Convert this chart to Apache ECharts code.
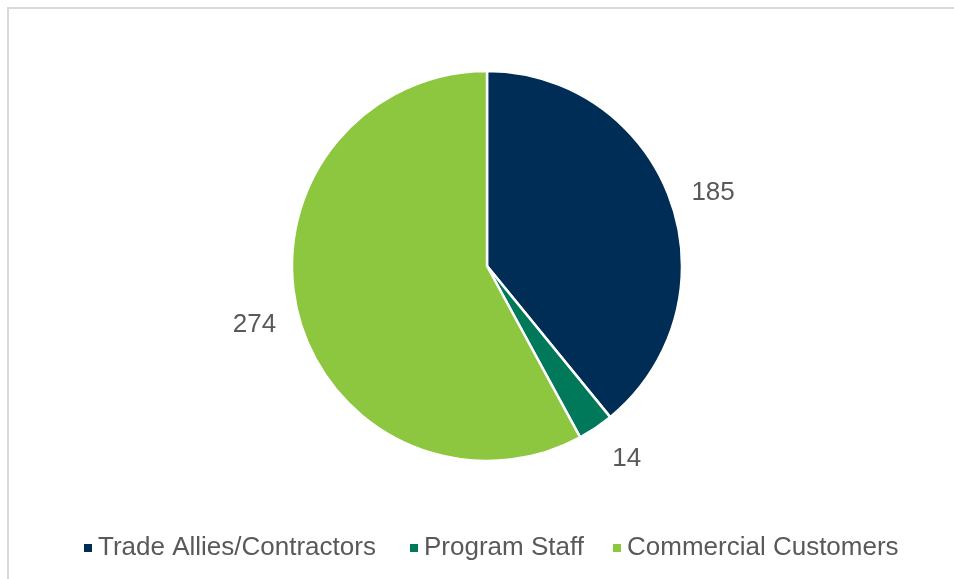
<!DOCTYPE html>
<html>
<head>
<meta charset="utf-8">
<script src="https://cdn.jsdelivr.net/npm/echarts@6/dist/echarts.min.js"></script>
<style>
  html, body { margin: 0; padding: 0; background: #ffffff; }
  #chart { width: 954px; height: 579px; }
</style>
</head>
<body>
<div id="chart"></div>
<script>
const categories = ['Trade Allies/Contractors', 'Program Staff', 'Commercial Customers'];
const values = [185, 14, 274];
const colors = ['#002D56', '#00785A', '#8DC63F'];

const FONT = "'Liberation Sans', Arial, sans-serif";
const TEXT = '#595959';

// small nudges of the value labels (layout only)
const labelNudges = [[0, 7], [6, -6], [0, 0]];

const pieData = categories.map((c, i) => ({ name: c, value: values[i], itemStyle: { color: colors[i] } }));
const labelData = categories.map((c, i) => ({ name: c, value: values[i], label: { offset: labelNudges[i] } }));

const legendLefts = [82, 408, 611];
const legends = categories.map((c, i) => ({
  data: [c],
  left: legendLefts[i],
  top: 535,
  padding: 0,
  orient: 'horizontal',
  icon: 'rect',
  itemWidth: 10,
  itemHeight: 10,
  selectedMode: false,
  textStyle: { fontFamily: FONT, fontSize: 26, color: TEXT }
}));

const chart = echarts.init(document.getElementById('chart'));
chart.setOption({
  backgroundColor: '#ffffff',
  animation: false,
  graphic: [{
    type: 'rect',
    shape: { x: 8, y: 8, width: 980, height: 620 },
    style: { fill: 'none', stroke: '#d9d9d9', lineWidth: 2 },
    silent: true
  }],
  legend: legends,
  series: [
    {
      type: 'pie',
      center: [487, 266],
      radius: 195,
      startAngle: 90,
      clockwise: true,
      avoidLabelOverlap: false,
      itemStyle: { borderColor: '#ffffff', borderWidth: 2.5 },
      label: { show: false },
      labelLine: { show: false },
      emphasis: { disabled: true },
      data: pieData
    },
    {
      type: 'pie',
      center: [487, 266],
      radius: [230, 244],
      startAngle: 90,
      clockwise: true,
      silent: true,
      legendHoverLink: false,
      itemStyle: { color: 'rgba(0,0,0,0)', borderWidth: 0 },
      label: {
        show: true,
        position: 'inside',
        formatter: '{c}',
        fontFamily: FONT,
        fontSize: 26,
        color: TEXT
      },
      labelLine: { show: false },
      emphasis: { disabled: true },
      data: labelData
    }
  ]
});
</script>
</body>
</html>
